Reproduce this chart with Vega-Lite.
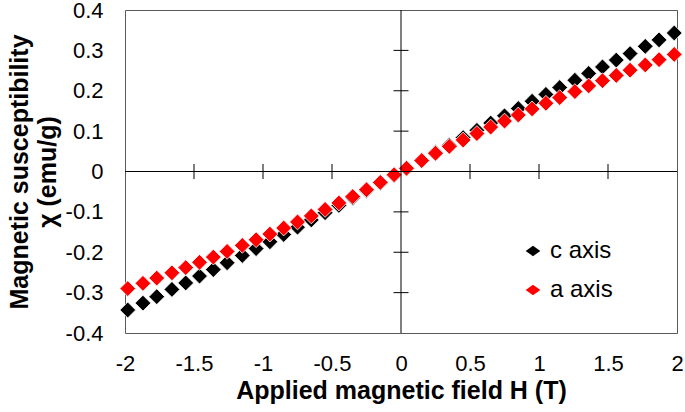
{
  "$schema": "https://vega.github.io/schema/vega-lite/v6.json",
  "width": 552,
  "height": 323,
  "autosize": "none",
  "padding": {"left": 125, "top": 10, "right": 8, "bottom": 79},
  "background": "white",
  "config": {
    "font": "Liberation Sans",
    "view": {"stroke": "#595959", "strokeWidth": 1}
  },
  "datasets": {
    "chi": [
      {"H": -1.98, "chi": -0.343, "series": "c axis"},
      {"H": -1.87, "chi": -0.326, "series": "c axis"},
      {"H": -1.77, "chi": -0.31, "series": "c axis"},
      {"H": -1.66, "chi": -0.292, "series": "c axis"},
      {"H": -1.56, "chi": -0.276, "series": "c axis"},
      {"H": -1.46, "chi": -0.259, "series": "c axis"},
      {"H": -1.36, "chi": -0.243, "series": "c axis"},
      {"H": -1.26, "chi": -0.226, "series": "c axis"},
      {"H": -1.15, "chi": -0.208, "series": "c axis"},
      {"H": -1.05, "chi": -0.191, "series": "c axis"},
      {"H": -0.95, "chi": -0.174, "series": "c axis"},
      {"H": -0.85, "chi": -0.156, "series": "c axis"},
      {"H": -0.75, "chi": -0.138, "series": "c axis"},
      {"H": -0.65, "chi": -0.12, "series": "c axis"},
      {"H": -0.55, "chi": -0.102, "series": "c axis"},
      {"H": -0.45, "chi": -0.084, "series": "c axis"},
      {"H": -0.35, "chi": -0.065, "series": "c axis"},
      {"H": -0.25, "chi": -0.047, "series": "c axis"},
      {"H": -0.15, "chi": -0.028, "series": "c axis"},
      {"H": -0.05, "chi": -0.009, "series": "c axis"},
      {"H": 0.04, "chi": 0.008, "series": "c axis"},
      {"H": 0.15, "chi": 0.028, "series": "c axis"},
      {"H": 0.25, "chi": 0.047, "series": "c axis"},
      {"H": 0.35, "chi": 0.065, "series": "c axis"},
      {"H": 0.45, "chi": 0.084, "series": "c axis"},
      {"H": 0.55, "chi": 0.102, "series": "c axis"},
      {"H": 0.65, "chi": 0.12, "series": "c axis"},
      {"H": 0.75, "chi": 0.138, "series": "c axis"},
      {"H": 0.85, "chi": 0.156, "series": "c axis"},
      {"H": 0.95, "chi": 0.174, "series": "c axis"},
      {"H": 1.05, "chi": 0.191, "series": "c axis"},
      {"H": 1.15, "chi": 0.208, "series": "c axis"},
      {"H": 1.26, "chi": 0.226, "series": "c axis"},
      {"H": 1.36, "chi": 0.243, "series": "c axis"},
      {"H": 1.46, "chi": 0.259, "series": "c axis"},
      {"H": 1.56, "chi": 0.276, "series": "c axis"},
      {"H": 1.66, "chi": 0.292, "series": "c axis"},
      {"H": 1.77, "chi": 0.31, "series": "c axis"},
      {"H": 1.87, "chi": 0.326, "series": "c axis"},
      {"H": 1.98, "chi": 0.343, "series": "c axis"},
      {"H": -1.98, "chi": -0.29, "series": "a axis"},
      {"H": -1.87, "chi": -0.277, "series": "a axis"},
      {"H": -1.77, "chi": -0.264, "series": "a axis"},
      {"H": -1.66, "chi": -0.251, "series": "a axis"},
      {"H": -1.56, "chi": -0.238, "series": "a axis"},
      {"H": -1.46, "chi": -0.225, "series": "a axis"},
      {"H": -1.36, "chi": -0.212, "series": "a axis"},
      {"H": -1.26, "chi": -0.198, "series": "a axis"},
      {"H": -1.15, "chi": -0.183, "series": "a axis"},
      {"H": -1.05, "chi": -0.169, "series": "a axis"},
      {"H": -0.95, "chi": -0.155, "series": "a axis"},
      {"H": -0.85, "chi": -0.14, "series": "a axis"},
      {"H": -0.75, "chi": -0.125, "series": "a axis"},
      {"H": -0.65, "chi": -0.11, "series": "a axis"},
      {"H": -0.55, "chi": -0.094, "series": "a axis"},
      {"H": -0.45, "chi": -0.078, "series": "a axis"},
      {"H": -0.35, "chi": -0.062, "series": "a axis"},
      {"H": -0.25, "chi": -0.045, "series": "a axis"},
      {"H": -0.15, "chi": -0.027, "series": "a axis"},
      {"H": -0.05, "chi": -0.008, "series": "a axis"},
      {"H": 0.04, "chi": 0.008, "series": "a axis"},
      {"H": 0.15, "chi": 0.027, "series": "a axis"},
      {"H": 0.25, "chi": 0.045, "series": "a axis"},
      {"H": 0.35, "chi": 0.062, "series": "a axis"},
      {"H": 0.45, "chi": 0.078, "series": "a axis"},
      {"H": 0.55, "chi": 0.094, "series": "a axis"},
      {"H": 0.65, "chi": 0.11, "series": "a axis"},
      {"H": 0.75, "chi": 0.125, "series": "a axis"},
      {"H": 0.85, "chi": 0.14, "series": "a axis"},
      {"H": 0.95, "chi": 0.155, "series": "a axis"},
      {"H": 1.05, "chi": 0.169, "series": "a axis"},
      {"H": 1.15, "chi": 0.183, "series": "a axis"},
      {"H": 1.26, "chi": 0.198, "series": "a axis"},
      {"H": 1.36, "chi": 0.212, "series": "a axis"},
      {"H": 1.46, "chi": 0.225, "series": "a axis"},
      {"H": 1.56, "chi": 0.238, "series": "a axis"},
      {"H": 1.66, "chi": 0.251, "series": "a axis"},
      {"H": 1.77, "chi": 0.264, "series": "a axis"},
      {"H": 1.87, "chi": 0.277, "series": "a axis"},
      {"H": 1.98, "chi": 0.29, "series": "a axis"}
    ],
    "xticks": [{"H": -1.5}, {"H": -1}, {"H": -0.5}, {"H": 0.5}, {"H": 1}, {"H": 1.5}],
    "yticks": [{"chi": -0.3}, {"chi": -0.2}, {"chi": -0.1}, {"chi": 0.1}, {"chi": 0.2}, {"chi": 0.3}]
  },
  "layer": [
    {
      "data": {"name": "chi"},
      "mark": {"type": "point", "shape": "diamond", "filled": true, "size": 250, "opacity": 1, "stroke": "white", "strokeWidth": 0.8},
      "encoding": {
        "x": {
          "field": "H", "type": "quantitative",
          "scale": {"domain": [-2, 2], "nice": false, "zero": false},
          "axis": {
            "title": "Applied magnetic field H (T)",
            "values": [-2, -1.5, -1, -0.5, 0, 0.5, 1, 1.5, 2],
            "format": "~g",
            "labelExpr": "replace(datum.label, '\u2212', '-')",
            "grid": false, "ticks": false, "tickSize": 0, "domain": false,
            "labelFontSize": 22, "labelColor": "black", "labelPadding": 20,
            "labelFlush": false, "labelOverlap": false, "labelBound": false,
            "titleFontSize": 25, "titleFontWeight": "bold", "titleColor": "black", "titlePadding": 4
          }
        },
        "y": {
          "field": "chi", "type": "quantitative",
          "scale": {"domain": [-0.4, 0.4], "nice": false, "zero": false},
          "axis": {
            "title": ["Magnetic susceptibility", "\u03c7 (emu/g)"],
            "values": [-0.4, -0.3, -0.2, -0.1, 0, 0.1, 0.2, 0.3, 0.4],
            "format": "~g",
            "labelExpr": "replace(datum.label, '\u2212', '-')",
            "grid": false, "ticks": false, "tickSize": 0, "domain": false,
            "labelFontSize": 22, "labelColor": "black", "labelPadding": 22,
            "labelFlush": false, "labelOverlap": false, "labelBound": false,
            "titleFontSize": 25, "titleFontWeight": "bold", "titleColor": "black",
            "titlePadding": 5, "titleLineHeight": 28
          }
        },
        "color": {
          "field": "series", "type": "nominal",
          "scale": {"domain": ["c axis", "a axis"], "range": ["#000000", "#ff0000"]},
          "legend": {
            "title": null, "orient": "none", "legendX": 396, "legendY": 229,
            "symbolType": "M-1,0L0,-0.7L1,0L0,0.7Z", "symbolSize": 216,
            "symbolStrokeWidth": 0, "symbolOpacity": 1,
            "labelFontSize": 24, "labelColor": "black", "labelOffset": 5,
            "rowPadding": 15, "padding": 0
          }
        }
      }
    },
    {
      "data": {"values": [{}]},
      "mark": {"type": "rule", "color": "black", "strokeWidth": 1},
      "encoding": {"x": {"datum": 0, "type": "quantitative"}}
    },
    {
      "data": {"values": [{}]},
      "mark": {"type": "rule", "color": "black", "strokeWidth": 1},
      "encoding": {"y": {"datum": 0, "type": "quantitative"}}
    },
    {
      "data": {"name": "xticks"},
      "mark": {"type": "tick", "orient": "vertical", "size": 15, "thickness": 1, "color": "black", "opacity": 1},
      "encoding": {
        "x": {"field": "H", "type": "quantitative"},
        "y": {"datum": 0, "type": "quantitative"}
      }
    },
    {
      "data": {"name": "yticks"},
      "mark": {"type": "tick", "orient": "horizontal", "size": 15, "thickness": 1, "color": "black", "opacity": 1},
      "encoding": {
        "y": {"field": "chi", "type": "quantitative"},
        "x": {"datum": 0, "type": "quantitative"}
      }
    }
  ]
}
